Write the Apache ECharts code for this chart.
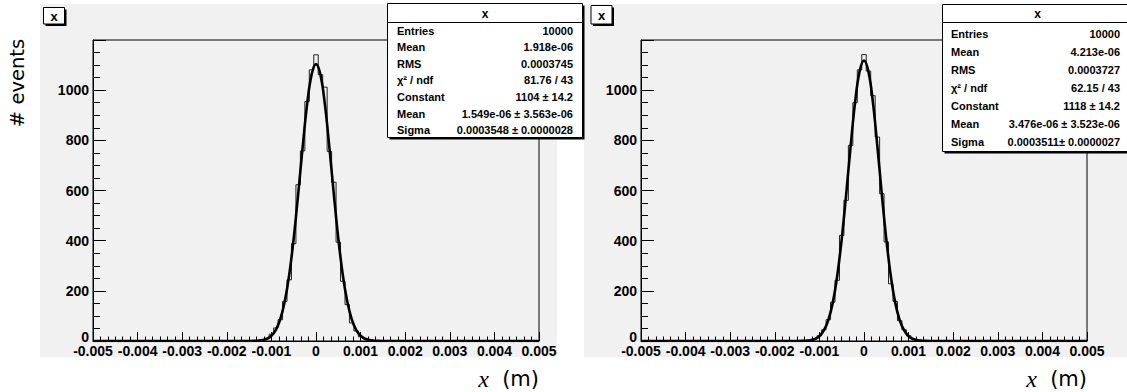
<!DOCTYPE html>
<html>
<head>
<meta charset="utf-8">
<script src="https://cdn.jsdelivr.net/npm/echarts@6.0.0/dist/echarts.min.js"></script>
<style>
  html, body { margin: 0; padding: 0; background: #fff; }
  #main { width: 1127px; height: 392px; }
</style>
</head>
<body>
<div id="main"></div>
<script>
// x axis (m) and y axis (events)
const xMin = -0.005, xMax = 0.005, xStep = 0.001;
const yMax = 1200, yStep = 200;

// histogram bins are 0.0001 wide, centred on multiples of 0.0001; only the
// bins near the peak are non-zero
const binWidth = 0.0001;
const binIndex = [-15, -14, -13, -12, -11, -10, -9, -8, -7, -6, -5, -4, -3, -2, -1, 0,
  1, 2, 3, 4, 5, 6, 7, 8, 9, 10, 11, 12, 13, 14, 15];
const countsLeft = [0, 1, 1, 3, 9, 27, 52, 85, 158, 244, 388, 623, 758, 955, 1081, 1141,
  1062, 1012, 756, 633, 394, 238, 145, 72, 40, 17, 8, 4, 2, 0, 1];
const countsRight = [0, 1, 1, 3, 8, 21, 45, 85, 155, 242, 421, 561, 780, 950, 1081, 1142,
  1076, 978, 813, 587, 395, 228, 158, 81, 45, 21, 8, 3, 1, 1, 0];

// gaussian fit curves, read at every 0.0001 from -0.0018 to 0.0018
const fitIndex = [-18, -17, -16, -15, -14, -13, -12, -11, -10, -9, -8, -7, -6, -5, -4, -3, -2, -1, 0,
  1, 2, 3, 4, 5, 6, 7, 8, 9, 10, 11, 12, 13, 14, 15, 16, 17, 18];
const fitLeft = [0, 0, 0, 0.1, 0.4, 1.3, 3.6, 9, 21, 44, 87, 158, 264, 409, 585, 772, 942, 1061, 1104,
  1061, 942, 772, 585, 409, 264, 158, 87, 44, 21, 9, 3.6, 1.3, 0.4, 0.1, 0, 0, 0];
const fitRight = [0, 0, 0, 0.1, 0.4, 1.2, 3.2, 8, 19, 42, 83, 153, 260, 406, 584, 776, 951, 1074, 1118,
  1074, 951, 776, 584, 406, 260, 153, 83, 42, 19, 8, 3.2, 1.2, 0.4, 0.1, 0, 0, 0];

// stats boxes
const statLabels = ['Entries', 'Mean', 'RMS', 'χ² / ndf', 'Constant', 'Mean', 'Sigma'];
const statsLeft = ['10000', '1.918e-06', '0.0003745', '81.76 / 43', '1104 ± 14.2',
  '1.549e-06 ± 3.563e-06', '0.0003548 ± 0.0000028'];
const statsRight = ['10000', '4.213e-06', '0.0003727', '62.15 / 43', '1118 ± 14.2',
  '3.476e-06 ± 3.523e-06', '0.0003511± 0.0000027'];
const histTitle = 'x';
const xTitle = 'x';
const xUnit = '  (m)';
const yTitle = '# events';

const FONT = 'Liberation Sans';
const round = v => Math.round(v * 1e6) / 1e6;

function histData(counts) {
  const data = [];
  const n = Math.round((xMax - xMin) / binWidth);
  for (let i = 0; i <= n; i++) {
    const k = i - n / 2;
    const j = binIndex.indexOf(k);
    data.push([round(k * binWidth), j >= 0 ? counts[j] : 0]);
  }
  return data;
}

function fitData(vals) {
  const data = [[xMin, 0]];
  fitIndex.forEach((k, i) => data.push([round(k * binWidth), vals[i]]));
  data.push([xMax, 0]);
  return data;
}

const grids = [
  { left: 93, top: 40, width: 446, height: 301 },
  { left: 641, top: 40, width: 446, height: 301 }
].map(g => Object.assign(g, { show: true, borderColor: '#000', borderWidth: 1, backgroundColor: 'transparent' }));

const labelStyle = { fontSize: 14, fontWeight: 'bold', fontFamily: FONT, color: '#000' };

const xAxes = [0, 1].map(i => ({
  gridIndex: i, type: 'value', min: xMin, max: xMax, interval: xStep,
  axisLine: { onZero: false, lineStyle: { color: '#000', width: 1 } },
  axisTick: { inside: true, length: 9, lineStyle: { color: '#000' } },
  minorTick: { show: true, splitNumber: 6, length: 4.5, lineStyle: { color: '#000' } },
  splitLine: { show: false },
  axisLabel: Object.assign({ margin: 3, formatter: v => String(+(+v).toFixed(3)) }, labelStyle)
}));

const yAxes = [0, 1].map(i => ({
  gridIndex: i, type: 'value', min: 0, max: yMax, interval: yStep,
  axisLine: { show: true, onZero: false, lineStyle: { color: '#000', width: 1 } },
  axisTick: { inside: true, length: 13, lineStyle: { color: '#000' } },
  minorTick: { show: true, splitNumber: 4, length: 7, lineStyle: { color: '#000' } },
  splitLine: { show: false },
  axisLabel: Object.assign({
    margin: 4, showMaxLabel: false,
    // ROOT lifts the "0" a little above the x labels
    formatter: v => (v === 0 ? '{z|0}' : String(v)),
    rich: { z: { fontSize: 14, fontWeight: 'bold', fontFamily: FONT, color: '#000', padding: [0, 0, 9, 0] } }
  }, labelStyle)
}));

function histSeries(i, counts) {
  return {
    type: 'line', xAxisIndex: i, yAxisIndex: i, data: histData(counts), step: 'middle',
    showSymbol: false, lineStyle: { color: '#222', width: 1 }, z: 2, animation: false
  };
}
function fitSeries(i, vals) {
  return {
    type: 'line', xAxisIndex: i, yAxisIndex: i, data: fitData(vals), smooth: 0.4,
    showSymbol: false, lineStyle: { color: '#000', width: 2.6 }, z: 3, animation: false
  };
}

// ROOT-like boxes with a drop shadow
function box(x, y, w, h) {
  return [
    { type: 'rect', shape: { x: x + 2, y: y + 2, width: w, height: h }, style: { fill: '#000' }, z: 100 },
    { type: 'rect', shape: { x: x, y: y, width: w, height: h }, style: { fill: '#fff', stroke: '#000', lineWidth: 1 }, z: 101 }
  ];
}
function txt(x, y, text, align, size, extra) {
  return Object.assign({
    type: 'text', x: x, y: y, z: 102,
    style: { text: text, align: align, verticalAlign: 'middle', fontSize: size, fontWeight: 'bold', fontFamily: FONT, fill: '#000' }
  }, extra || {});
}
function statsBox(x, y, w, h, sepY, labelX, valueX, rowY, rowStep, values, size) {
  const els = box(x, y, w, h);
  els.push({ type: 'line', shape: { x1: x, y1: sepY, x2: x + w, y2: sepY }, style: { stroke: '#000', lineWidth: 1 }, z: 102 });
  els.push(txt(x + w / 2, (y + sepY) / 2 + 0.5, histTitle, 'center', 12));
  statLabels.forEach((lab, i) => {
    els.push(txt(labelX, rowY + i * rowStep, lab, 'left', size));
    els.push(txt(valueX, rowY + i * rowStep, values[i], 'right', size));
  });
  return els;
}
function titleBox(x, y, w, h) {
  const els = box(x, y, w, h);
  els.push(txt(x + w / 2, y + h / 2 + 0.5, histTitle, 'center', 13));
  return els;
}
function axisTitle(xRight) {
  return {
    type: 'text', x: xRight, y: 379, z: 5,
    style: {
      text: '{i|' + xTitle + '}{n|' + xUnit + '}', align: 'right', verticalAlign: 'middle',
      rich: {
        i: { fontFamily: 'Liberation Serif', fontStyle: 'italic', fontSize: 24, fill: '#000' },
        n: { fontFamily: 'DejaVu Sans', fontSize: 21, fill: '#000' }
      }
    }
  };
}

const graphics = [
  { type: 'rect', shape: { x: 40, y: 4, width: 517, height: 353 }, style: { fill: '#f1f1f1' }, z: -10 },
  { type: 'rect', shape: { x: 584, y: 4, width: 543, height: 353 }, style: { fill: '#f1f1f1' }, z: -10 },
  ...titleBox(43.5, 7.5, 21, 16.5),
  ...titleBox(591, 5.5, 21, 18.5),
  ...statsBox(387.5, 3.5, 195, 134, 22.5, 397, 573, 30.5, 16.6, statsLeft, 11),
  ...statsBox(942.5, 4.5, 190, 147, 22.5, 951, 1120, 33.5, 18, statsRight, 11),
  axisTitle(539),
  axisTitle(1087),
  {
    type: 'text', x: 17, y: 83, rotation: Math.PI / 2, z: 5,
    style: { text: yTitle, align: 'center', verticalAlign: 'middle', fontFamily: 'DejaVu Sans', fontSize: 19.5, fill: '#000' }
  }
];

const chart = echarts.init(document.getElementById('main'), null, { renderer: 'svg' });
chart.setOption({
  animation: false,
  backgroundColor: '#fff',
  grid: grids,
  xAxis: xAxes,
  yAxis: yAxes,
  series: [histSeries(0, countsLeft), fitSeries(0, fitLeft), histSeries(1, countsRight), fitSeries(1, fitRight)],
  graphic: { elements: graphics }
});
</script>
</body>
</html>
